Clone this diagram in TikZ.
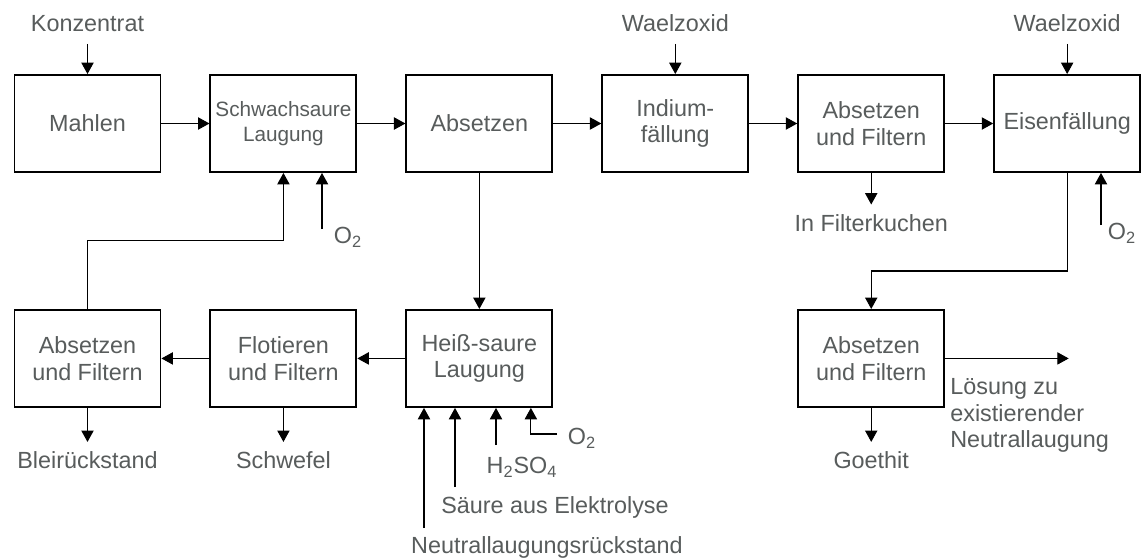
\documentclass[tikz,border=0pt]{standalone}
\usepackage{fontspec}
\setmainfont{Liberation Sans}
\usetikzlibrary{positioning,calc,arrows.meta}
\definecolor{schrift}{RGB}{88,92,92}
\tikzset{schritt/.style={draw,line width=1.1pt,minimum width=2.92cm,minimum height=1.94cm,inner sep=1pt,align=center,text=schrift,font=\fontsize{13.3}{15.2}\selectfont},
  stoff/.style={text=schrift,inner sep=2pt,align=center,font=\fontsize{13.3}{15.2}\selectfont},
  fluss/.style={line width=0.6pt,-{Triangle[length=6.5pt,width=7pt]}},
  zufluss/.style={fluss,shorten <=4.8pt},
  abfluss/.style={fluss,shorten >=3.4pt}}

\begin{document}
\begin{tikzpicture}
    \useasboundingbox[fill=white] (0,0) rectangle (22.82,-11.16);
    % obere Reihe
    \node[schritt] (mahlen) at (1.75,-2.47) {Mahlen};
    \node[schritt,right=0.96cm of mahlen,font=\fontsize{11.8}{14.2}\selectfont] (schwach) {Schwachsaure\\Laugung};
    \node[schritt,right=0.96cm of schwach] (abs) {Absetzen};
    \node[schritt,right=0.96cm of abs] (indium) {Indium-\\fällung};
    \node[schritt,right=0.96cm of indium] (af1) {Absetzen\\und Filtern};
    \node[schritt,right=0.96cm of af1] (eisen) {Eisenfällung};
    % untere Reihe
    \node[schritt,below=2.72cm of mahlen] (af3) {Absetzen\\und Filtern};
    \node[schritt,below=2.72cm of schwach] (flot) {Flotieren\\und Filtern};
    \node[schritt,below=2.72cm of abs] (heiss) {Heiß-saure\\Laugung};
    \node[schritt,below=2.72cm of af1] (af2) {Absetzen\\und Filtern};
    % Stoffe
    \node[stoff,above=0.77cm of mahlen] (konz) {Konzentrat};
    \node[stoff,above=0.77cm of indium] (wael1) {Waelzoxid};
    \node[stoff,above=0.77cm of eisen] (wael2) {Waelzoxid};
    \node[stoff,below=0.75cm of af1] (kuchen) {In Filterkuchen};
    \node[stoff,below=0.8cm of af3] (blei) {Bleirückstand};
    \node[stoff,below=0.8cm of flot] (schwefel) {Schwefel};
    \node[stoff,below=0.8cm of af2] (goethit) {Goethit};
    \node[stoff,inner sep=0pt,align=left,anchor=north west] (loesung) at (19.0,-7.56) {Lösung zu\\existierender\\Neutrallaugung};
    \node[stoff] (o2s) at (6.96,-4.74) {O\textsubscript{2}};
    \node[stoff] (o2e) at (22.44,-4.66) {O\textsubscript{2}};
    \node[stoff] (o2h) at (11.64,-8.76) {O\textsubscript{2}};
    \node[stoff] (hso) at (10.44,-9.34) {H\textsubscript{2}SO\textsubscript{4}};
    \node[stoff] (saeure) at (11.1,-10.14) {Säure aus Elektrolyse};
    \node[stoff] (neutral) at (10.94,-10.94) {Neutrallaugungsrückstand};
    \coordinate (o2sAnf) at (6.44,-4.58);
    \coordinate (o2eAnf) at (22.02,-4.5);
    \coordinate (o2hAnf) at (11.14,-8.68);
    \coordinate (hsoAnf) at (9.92,-8.9);
    \coordinate (saeureAnf) at (9.1,-9.74);
    \coordinate (neutralAnf) at (8.48,-10.56);
    \coordinate (loesEnde) at ($(af2.east)+(2.47,0)$);
    % Hauptstrom
    \draw[zufluss] (konz) -- (mahlen);
    \draw[zufluss] (wael1) -- (indium);
    \draw[zufluss] (wael2) -- (eisen);
    \draw[fluss] (mahlen) -- (schwach);
    \draw[fluss] (schwach) -- (abs);
    \draw[fluss] (abs) -- (indium);
    \draw[fluss] (indium) -- (af1);
    \draw[fluss] (af1) -- (eisen);
    \draw[abfluss] (af1) -- (kuchen);
    \draw[fluss] (abs) -- (heiss);
    \draw[fluss] (heiss) -- (flot);
    \draw[fluss] (flot) -- (af3);
    \draw[abfluss] (af3) -- (blei);
    \draw[abfluss] (flot) -- (schwefel);
    \draw[fluss] (af3.north) -- ++(0,1.37) -| (schwach.south);
    \draw[fluss] (eisen.south) -- ++(0,-1.96) -| (af2.north);
    \draw[abfluss] (af2) -- (goethit);
    \draw[fluss] (af2.east) -- (loesEnde);
    % Zugaben
    \draw[fluss] (o2sAnf) -- (o2sAnf |- schwach.south);
    \draw[fluss] (o2eAnf) -- (o2eAnf |- eisen.south);
    \draw[fluss] (o2hAnf) -| ($(heiss.south)+(1.03,0)$);
    \draw[fluss] (hsoAnf) -- (hsoAnf |- heiss.south);
    \draw[fluss] (saeureAnf) -- (saeureAnf |- heiss.south);
    \draw[fluss] (neutralAnf) -- (neutralAnf |- heiss.south);
\end{tikzpicture}
\end{document}
